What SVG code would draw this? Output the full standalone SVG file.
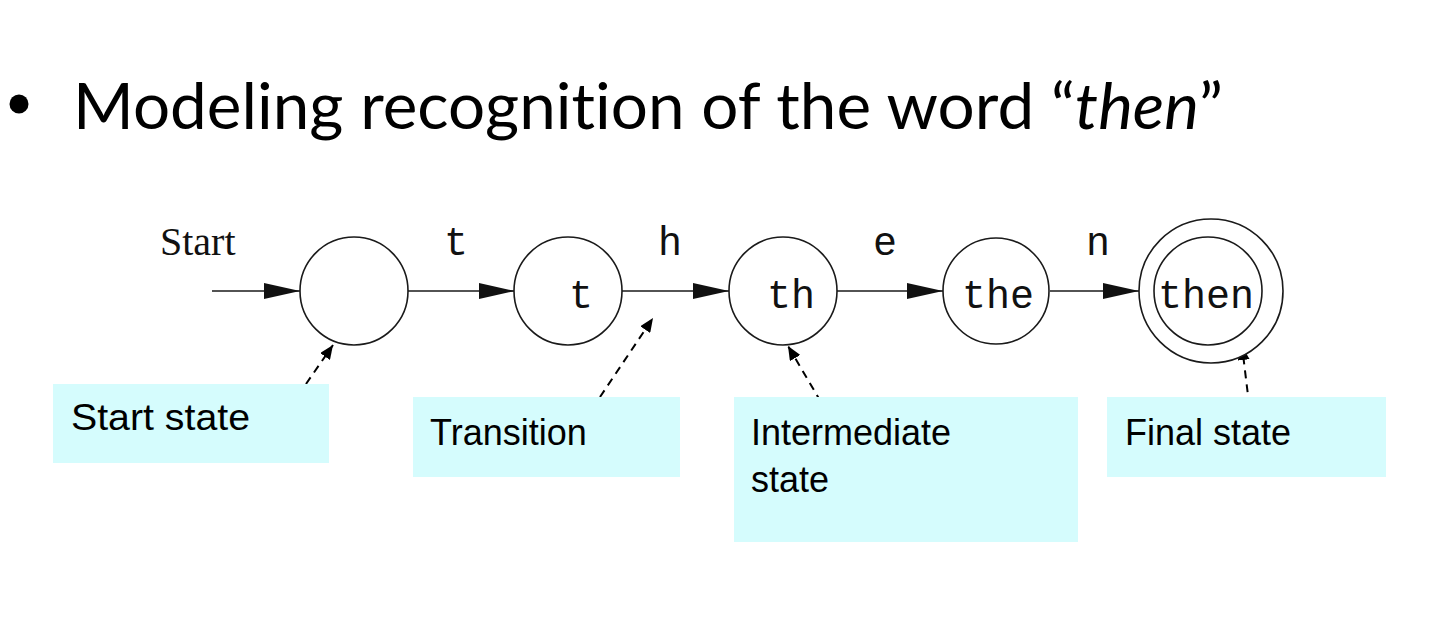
<svg xmlns="http://www.w3.org/2000/svg" width="1444" height="618" viewBox="0 0 1444 618">
  <style>
    .state { fill: #ffffff; stroke: #1a1a1a; stroke-width: 1.6; }
    .edge { fill: none; stroke: #1a1a1a; stroke-width: 1.5; }
    .pointer { fill: none; stroke: #000000; stroke-width: 2; stroke-dasharray: 8 6; }
    .mono { font-family: "Liberation Mono", "DejaVu Sans Mono", monospace; font-size: 40px; fill: #111111; }
    .serif { font-family: "Liberation Serif", serif; font-size: 40px; fill: #111111; }
    .note { fill: #d5fcfd; }
    .noteText { font-family: "Liberation Sans", Arial, sans-serif; font-size: 36px; fill: #000000; }
    .title { font-family: "Lato", "Open Sans", sans-serif; font-size: 64px; fill: #000000; font-variant-ligatures: none; }
  </style>
  <defs>
    <marker id="solidHead" viewBox="0 0 36 16" refX="36" refY="8" markerWidth="36" markerHeight="16" markerUnits="userSpaceOnUse" orient="auto">
      <path d="M0,0 L36,8 L0,16 Z" fill="#111111"/>
    </marker>
    <marker id="smallHead" viewBox="0 0 14 12" refX="14" refY="6" markerWidth="14" markerHeight="12" markerUnits="userSpaceOnUse" orient="auto">
      <path d="M0,0 L14,6 L0,12 Z" fill="#000000"/>
    </marker>
  </defs>

  <!-- heading -->
  <g id="heading">
    <circle cx="19" cy="104" r="9.5" fill="#000000"/>
    <text class="title" x="73" y="129" textLength="1150" lengthAdjust="spacingAndGlyphs">Modeling recognition of the word “<tspan font-style="italic">then</tspan>”</text>
  </g>

  <!-- transitions -->
  <g id="connectors">
    <line class="edge" x1="212" y1="291" x2="300" y2="291" marker-end="url(#solidHead)"/>
    <line class="edge" x1="408" y1="291" x2="515" y2="291" marker-end="url(#solidHead)"/>
    <line class="edge" x1="622" y1="291" x2="729" y2="291" marker-end="url(#solidHead)"/>
    <line class="edge" x1="837" y1="291" x2="943" y2="291" marker-end="url(#solidHead)"/>
    <line class="edge" x1="1050" y1="291" x2="1139" y2="291" marker-end="url(#solidHead)"/>
    <text class="serif" x="160" y="255">Start</text>
    <text class="mono" x="444" y="255">t</text>
    <text class="mono" x="658" y="255">h</text>
    <text class="mono" x="873" y="255">e</text>
    <text class="mono" x="1086" y="255">n</text>
    <!-- dashed pointers from the notes -->
    <line class="pointer" x1="306" y1="384" x2="333" y2="345" marker-end="url(#smallHead)"/>
    <line class="pointer" x1="600" y1="397" x2="653" y2="318" marker-end="url(#smallHead)"/>
    <line class="pointer" x1="828" y1="414" x2="788" y2="346" marker-end="url(#smallHead)"/>
    <line class="pointer" x1="1251" y1="420" x2="1242" y2="346" marker-end="url(#smallHead)"/>
  </g>

  <g id="s0">
    <circle class="state" cx="354" cy="291" r="54"/>
  </g>
  <g id="s1">
    <circle class="state" cx="568" cy="291" r="54"/>
    <text class="mono" x="569" y="308">t</text>
  </g>
  <g id="s2">
    <circle class="state" cx="783" cy="291" r="54"/>
    <text class="mono" x="767" y="308">th</text>
  </g>
  <g id="s3">
    <circle class="state" cx="996" cy="291" r="53"/>
    <text class="mono" x="962" y="308">the</text>
  </g>
  <g id="s4">
    <circle class="state" cx="1211" cy="291" r="72"/>
    <circle class="state" cx="1208" cy="291" r="54"/>
    <text class="mono" x="1158" y="308">then</text>
  </g>

  <g id="noteStart">
    <rect class="note" x="53" y="384" width="276" height="79"/>
    <text class="noteText" x="71" y="430" textLength="179" lengthAdjust="spacingAndGlyphs">Start state</text>
  </g>
  <g id="noteTransition">
    <rect class="note" x="413" y="397" width="267" height="80"/>
    <text class="noteText" x="430" y="445">Transition</text>
  </g>
  <g id="noteIntermediate">
    <rect class="note" x="734" y="397" width="344" height="145"/>
    <text class="noteText" x="751" y="445">Intermediate</text>
    <text class="noteText" x="751" y="492">state</text>
  </g>
  <g id="noteFinal">
    <rect class="note" x="1107" y="397" width="279" height="80"/>
    <text class="noteText" x="1125" y="445">Final state</text>
  </g>
</svg>
